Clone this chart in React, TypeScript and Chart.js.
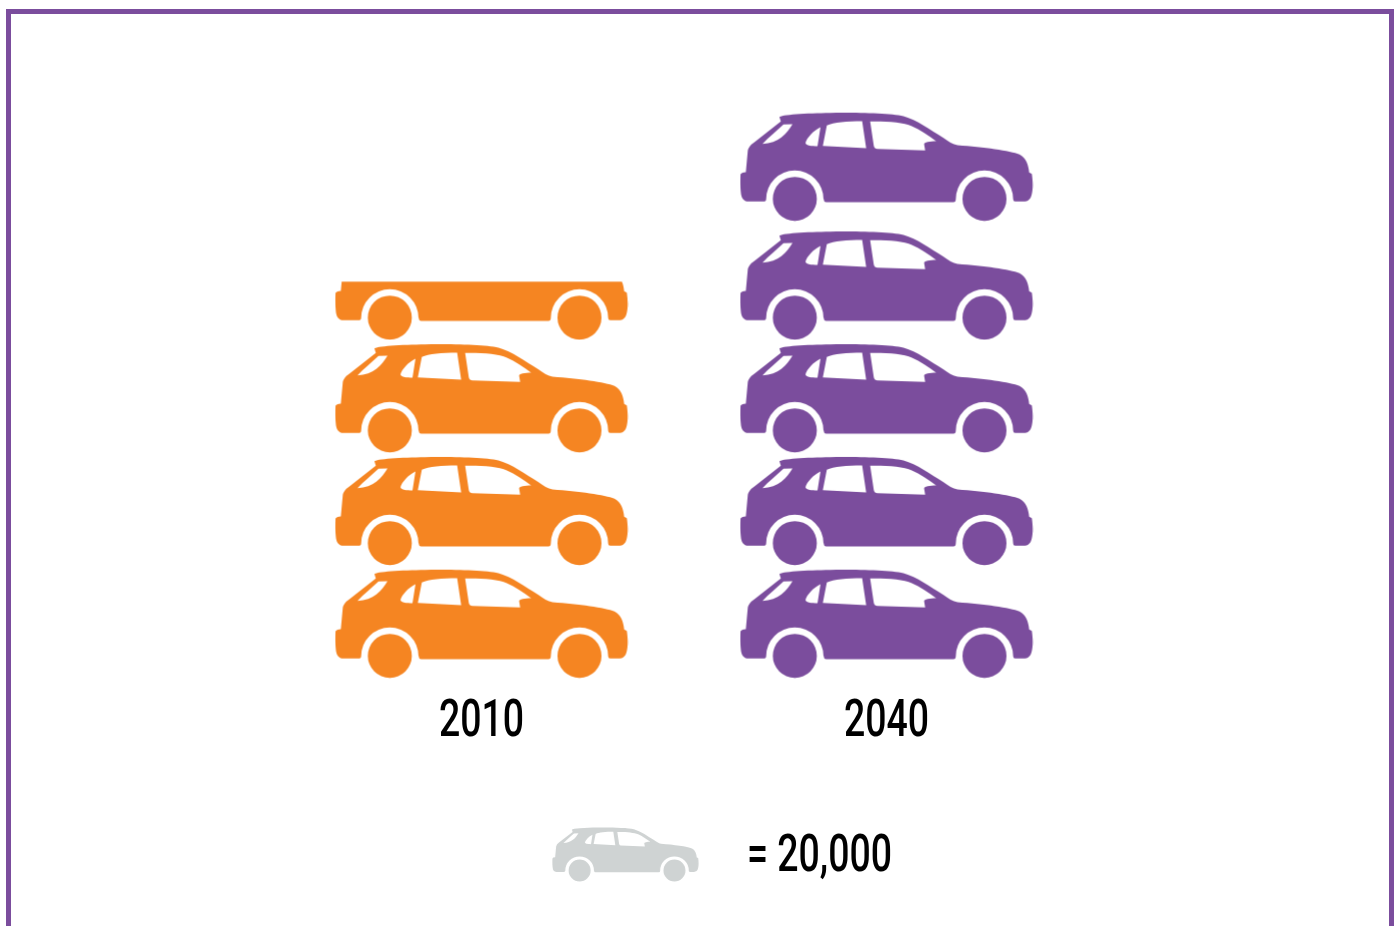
import React, { useEffect, useRef } from "react";
import { Chart, registerables } from "chart.js";

Chart.register(...registerables);

const years = [2010, 2040];
const carRows2010 = [0, 1, 2, 3];
const carRows2040 = [0, 1, 2, 3, 4.053];
const visibleShare2010 = [1, 1, 1, 0.535];
const visibleShare2040 = [1, 1, 1, 1, 1];
const legendLabel = "= 20,000";
const ORANGE = "#F58522";
const PURPLE = "#7B4D9D";
const GREY = "#CFD3D3";
const FONT = "Roboto, sans-serif";
const TEXT_SQUEEZE = 0.72;

function carImage(color: string, scale: number, share: number, extraBottom = 0) {
  const c = document.createElement("canvas");
  const h = Math.round(110 * scale);
  c.width = Math.round(294 * scale);
  c.height = h + extraBottom;
  const g = c.getContext("2d")!;
  const k = scale / 3;
  g.translate(c.width / 2, h / 2);
  g.scale(k, k);
  g.translate(-469, -198.5);
  if (share < 1) {
    g.beginPath();
    const top = 360 - 323 * share;
    g.rect(0, top, 1000, 400);
    g.clip();
  }
  g.fillStyle = color;
  const p = new Path2D();
  p.moveTo(148, 50);
  p.bezierCurveTo(150, 42, 230, 38, 300, 37);
  p.bezierCurveTo(380, 36, 480, 38, 520, 47);
  p.bezierCurveTo(560, 58, 600, 88, 640, 112);
  p.bezierCurveTo(655, 122, 668, 132, 682, 134);
  p.bezierCurveTo(760, 140, 840, 150, 868, 162);
  p.bezierCurveTo(888, 172, 895, 195, 897, 216);
  p.lineTo(905, 220);
  p.bezierCurveTo(908, 240, 909, 265, 905, 280);
  p.bezierCurveTo(902, 296, 893, 303, 880, 303);
  p.lineTo(855, 303);
  p.quadraticCurveTo(849, 303, 849, 296);
  p.arc(763, 296, 86, 0, Math.PI, true);
  p.quadraticCurveTo(677, 305, 670, 305);
  p.lineTo(288, 305);
  p.quadraticCurveTo(281, 305, 281, 296);
  p.arc(194, 296, 86, 0, Math.PI, true);
  p.quadraticCurveTo(108, 303, 100, 303);
  p.lineTo(55, 303);
  p.bezierCurveTo(40, 303, 33, 292, 32, 275);
  p.bezierCurveTo(30, 258, 30, 238, 31, 222);
  p.quadraticCurveTo(33, 216, 47, 215);
  p.lineTo(53, 150);
  p.quadraticCurveTo(56, 136, 70, 127);
  p.lineTo(152, 63);
  p.closePath();
  // rear quarter glass
  p.moveTo(97, 130);
  p.bezierCurveTo(115, 112, 140, 90, 160, 72);
  p.lineTo(187, 71);
  p.bezierCurveTo(170, 100, 145, 128, 97, 130);
  p.closePath();
  // small window
  p.moveTo(271, 80);
  p.lineTo(262, 137);
  p.bezierCurveTo(245, 136, 228, 136, 226, 127);
  p.bezierCurveTo(230, 112, 250, 90, 271, 80);
  p.closePath();
  // middle window
  p.moveTo(290, 75);
  p.bezierCurveTo(310, 65, 350, 62, 396, 62);
  p.lineTo(408, 143);
  p.lineTo(278, 136);
  p.closePath();
  // front window
  p.moveTo(420, 63);
  p.bezierCurveTo(470, 62, 520, 66, 545, 77);
  p.bezierCurveTo(570, 88, 595, 105, 618, 122);
  p.bezierCurveTo(600, 122, 580, 125, 582, 132);
  p.lineTo(585, 150);
  p.lineTo(442, 145);
  p.quadraticCurveTo(433, 145, 431, 136);
  p.closePath();
  g.fill(p, "evenodd");
  g.beginPath();
  g.arc(194, 295, 66, 0, Math.PI * 2);
  g.arc(763, 295, 66, 0, Math.PI * 2);
  g.fill();
  return c;
}

// The reference uses a condensed face that is not installed: narrow Roboto horizontally.
function condenseText(ctx: any) {
  const fill = ctx.fillText.bind(ctx);
  const measure = ctx.measureText.bind(ctx);
  ctx.fillText = (t: string, x: number, y: number) => {
    ctx.save();
    ctx.translate(x, y);
    ctx.scale(TEXT_SQUEEZE, 1);
    fill(t, 0, 0);
    ctx.restore();
  };
  ctx.measureText = (t: string) => {
    const m = measure(t);
    return { width: m.width * TEXT_SQUEEZE };
  };
}

export default function App() {
  const ref = useRef<HTMLCanvasElement>(null);
  useEffect(() => {
    const ctx = ref.current!.getContext("2d");
    condenseText(ctx);
    const chart = new Chart(ref.current!, {
      type: "scatter",
      data: {
        datasets: [
          {
            label: String(years[0]),
            data: carRows2010.map((y) => ({ x: years[0], y })),
            pointStyle: visibleShare2010.map((s) => carImage(ORANGE, 1, s)),
            pointRadius: 1,
            clip: false,
          },
          {
            label: String(years[1]),
            data: carRows2040.map((y) => ({ x: years[1], y })),
            pointStyle: visibleShare2040.map((s) => carImage(PURPLE, 1, s)),
            pointRadius: 1,
            clip: false,
          },
        ],
      } as any,
      options: {
        animation: false,
        responsive: false,
        layout: { padding: { left: 333, right: 309, top: 0, bottom: 32 } },
        scales: {
          x: {
            type: "linear",
            min: 1999,
            max: 2055,
            grid: { display: false, drawTicks: false },
            border: { display: false },
            afterBuildTicks: (s: any) => {
              s.ticks = years.map((value) => ({ value }));
            },
            afterFit: (s: any) => {
              s.height = 115.5;
            },
            ticks: {
              autoSkip: false,
              maxRotation: 0,
              padding: 0,
              color: "#000",
              font: { family: FONT, size: 52, weight: "500" },
              callback: (v: any) => String(v),
            },
          },
          y: { display: false, min: -0.602, max: 5.487 },
        },
        plugins: {
          tooltip: { enabled: false },
          legend: {
            position: "bottom",
            labels: {
              usePointStyle: true,
              pointStyleWidth: 191,
              padding: 25,
              color: "#000",
              font: { family: FONT, size: 52, weight: "500" },
              generateLabels: () => [
                {
                  text: legendLabel,
                  pointStyle: carImage(GREY, 0.5, 1, 7),
                  fillStyle: GREY,
                  strokeStyle: GREY,
                  lineWidth: 0,
                  hidden: false,
                  datasetIndex: 0,
                  fontColor: "#000",
                },
              ],
            },
          },
        },
      },
    } as any);
    return () => chart.destroy();
  }, []);
  return (
    <div style={{ position: "fixed", inset: 0, background: "#fff", overflow: "hidden" }}>
      <div
        style={{
          position: "absolute",
          left: 6,
          top: 9,
          width: 1388,
          height: 1000,
          boxSizing: "border-box",
          border: `5px solid ${PURPLE}`,
        }}
      />
      <canvas ref={ref} width={1398} height={926} style={{ position: "absolute", left: 0, top: 0 }} />
    </div>
  );
}
